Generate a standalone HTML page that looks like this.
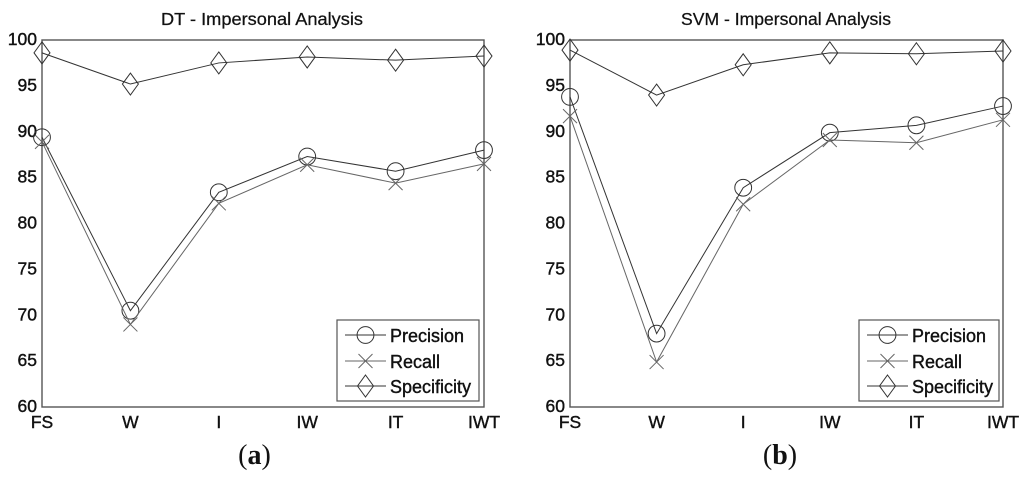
<!DOCTYPE html>
<html>
<head>
<meta charset="utf-8">
<style>
html,body{margin:0;padding:0;background:#fff;}
svg{display:block;}
text{font-family:"Liberation Sans",Arial,sans-serif;fill:#111;}
</style>
</head>
<body>
<svg id="fig" xmlns="http://www.w3.org/2000/svg" width="1024" height="477" viewBox="0 0 1024 477">
<rect width="1024" height="477" fill="#fff"/>
</svg>
<script>
const categories = ["FS", "W", "I", "IW", "IT", "IWT"];
const yTicks = [60, 65, 70, 75, 80, 85, 90, 95, 100];
const legendLabels = ["Precision", "Recall", "Specificity"];
const dtPrecision = [89.4, 70.5, 83.4, 87.3, 85.7, 88.0];
const dtRecall = [88.9, 69.0, 82.2, 86.4, 84.4, 86.5];
const dtSpecificity = [98.6, 95.2, 97.5, 98.15, 97.8, 98.25];
const svmPrecision = [93.8, 68.0, 83.9, 89.9, 90.7, 92.8];
const svmRecall = [91.7, 64.9, 82.1, 89.1, 88.8, 91.3];
const svmSpecificity = [98.9, 94.0, 97.3, 98.6, 98.5, 98.8];

const NS = "http://www.w3.org/2000/svg";
const fig = document.getElementById("fig");

function mk(parent, tag, attrs, txt) {
  const e = document.createElementNS(NS, tag);
  for (const k in attrs) e.setAttribute(k, attrs[k]);
  if (txt !== undefined) e.textContent = txt;
  parent.appendChild(e);
  return e;
}

function marker(g, kind, cx, cy, color) {
  let m;
  if (kind === "Precision") {
    m = mk(g, "circle", {cx: cx, cy: cy, r: 8.4, fill: "none", stroke: color, "stroke-width": 1});
  } else if (kind === "Recall") {
    m = mk(g, "path", {d: "M" + (cx - 7) + " " + (cy - 7) + "L" + (cx + 7) + " " + (cy + 7) + "M" + (cx - 7) + " " + (cy + 7) + "L" + (cx + 7) + " " + (cy - 7), fill: "none", stroke: color, "stroke-width": 1});
  } else {
    m = mk(g, "path", {d: "M" + cx + " " + (cy - 11) + "L" + (cx + 8) + " " + cy + "L" + cx + " " + (cy + 11) + "L" + (cx - 8) + " " + cy + "Z", fill: "none", stroke: color, "stroke-width": 1});
  }
  
  
}

const seriesColors = {Precision: "#333", Recall: "#666", Specificity: "#333"};

function drawChart(opt) {
  const g = mk(fig, "g", {});
  
  

  const xScale = i => opt.left + (opt.right - opt.left) * i / (categories.length - 1);
  const yScale = v => opt.bottom - (opt.bottom - opt.top) * (v - 60) / 40;

  const title = mk(g, "text", {x: opt.titleX, y: 25, "font-size": 17.5, textLength: opt.titleW, lengthAdjust: "spacingAndGlyphs", stroke: "#111", "stroke-width": 0.25}, opt.title);
  
  

  const frame = mk(g, "rect", {x: opt.left, y: opt.top, width: opt.right - opt.left, height: opt.bottom - opt.top, fill: "none", stroke: "#555", "stroke-width": 1.4});
  
  

  yTicks.forEach(v => {
    const t = mk(g, "text", {x: opt.left - 5, y: yScale(v) + 5, "text-anchor": "end", "font-size": 17.5, stroke: "#111", "stroke-width": 0.4}, String(v));
    
    
  });

  categories.forEach((c, i) => {
    const t = mk(g, "text", {x: xScale(i), y: opt.bottom + 21, "text-anchor": "middle", "font-size": 17.5, stroke: "#111", "stroke-width": 0.4}, c);
    
    
  });

  opt.series.forEach(s => {
    const sg = mk(g, "g", {});
    
    
    const pts = s.values.map((v, i) => xScale(i) + "," + yScale(v)).join(" ");
    const line = mk(sg, "polyline", {points: pts, fill: "none", stroke: seriesColors[s.label], "stroke-width": 1});
    
    
    s.values.forEach((v, i) => marker(sg, s.label, xScale(i), yScale(v), seriesColors[s.label]));
  });

  const lg = mk(g, "g", {});
  
  
  const box = mk(lg, "rect", {x: opt.legX, y: 320, width: opt.legW, height: 81, fill: "#fff", stroke: "#555", "stroke-width": 1.2});
  
  
  const rows = [335, 361, 386];
  legendLabels.forEach((lab, i) => {
    const y = rows[i];
    const x0 = opt.legX + 8, x1 = opt.legX + 49, xm = opt.legX + 28.5;
    const l = mk(lg, "line", {x1: x0, y1: y, x2: x1, y2: y, stroke: seriesColors[lab], "stroke-width": 1});
    
    
    marker(lg, lab, xm, y, seriesColors[lab]);
    const t = mk(lg, "text", {x: opt.legX + 53, y: y + 7, "font-size": 18, stroke: "#111", "stroke-width": 0.4}, lab);
    
    
  });

  const cap = mk(g, "text", {x: opt.capX, y: 464, "text-anchor": "middle", "font-size": 28, style: "font-family:'Liberation Serif',serif"});
  
  
  mk(cap, "tspan", {}, "(");
  mk(cap, "tspan", {"font-weight": "bold"}, opt.cap);
  mk(cap, "tspan", {}, ")");
}

drawChart({
  name: "dt-chart", title: "DT - Impersonal Analysis", titleX: 161, titleW: 202,
  left: 42, right: 484, top: 40, bottom: 407, legX: 337, legW: 142, capX: 254.5, cap: "a",
  series: [
    {label: "Precision", values: dtPrecision},
    {label: "Recall", values: dtRecall},
    {label: "Specificity", values: dtSpecificity}
  ]
});
drawChart({
  name: "svm-chart", title: "SVM - Impersonal Analysis", titleX: 681, titleW: 210,
  left: 570, right: 1003, top: 40, bottom: 407, legX: 859, legW: 140, capX: 780, cap: "b",
  series: [
    {label: "Precision", values: svmPrecision},
    {label: "Recall", values: svmRecall},
    {label: "Specificity", values: svmSpecificity}
  ]
});
</script>
</body>
</html>
